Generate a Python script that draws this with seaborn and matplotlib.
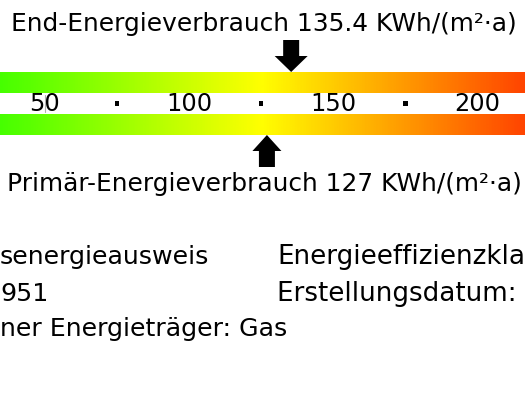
import numpy as np
import pandas as pd
import matplotlib
matplotlib.use("Agg")
import matplotlib.pyplot as plt
from matplotlib.colors import LinearSegmentedColormap
import seaborn as sns

# ---- data ----
scale_labels = [50, 100, 150, 200]
scale_dots = [75, 125, 175]
end_energy = 135.4
primary_energy = 127
title_end = "End-Energieverbrauch 135.4 KWh/(m²·a)"
title_primary = "Primär-Energieverbrauch 127 KWh/(m²·a)"
info_left = ["senergieausweis", "951", "ner Energieträger: Gas"]
info_right = ["Energieeffizienzkla", "Erstellungsdatum: ", ""]
gradient_stops = [0, 125, 250]          # green -> yellow -> red
gradient_colors = ["#00ff00", "#ffff00", "#ff0000"]

# ---- layout ----
W, H = 525, 394
PX_PER_UNIT = 2.886
X0 = 50 - 44.7 / PX_PER_UNIT
X1 = X0 + W / PX_PER_UNIT

sns.set_style("white")
plt.rcParams["font.family"] = ["DejaVu Sans"]
plt.rcParams["text.color"] = "black"

fig = plt.figure(figsize=(W / 100, H / 100), dpi=100)
ax = fig.add_axes([0, 0, 1, 1])
ax.set_xlim(X0, X1)
ax.set_ylim(H, 0)
ax.axis("off")

cmap = LinearSegmentedColormap.from_list(
    "energy",
    [((s - gradient_stops[0]) / (gradient_stops[-1] - gradient_stops[0]), c)
     for s, c in zip(gradient_stops, gradient_colors)])
vals = np.linspace(X0, X1, 600)[None, :]
for (ytop, ybot) in [(72.5, 93), (114, 135)]:
    ax.imshow(vals, cmap=cmap, vmin=gradient_stops[0], vmax=gradient_stops[-1],
              extent=(X0, X1, ybot, ytop), aspect="auto", interpolation="bilinear")
ax.set_xlim(X0, X1)
ax.set_ylim(H, 0)

# thin marker line at 50
ax.plot([50, 50], [95, 112], color="#b0b0b0", lw=0.8)

# scale labels
for v in scale_labels:
    ax.text(v, 103.5, str(v), ha="center", va="center", fontsize=17.3, color="black")

dots = pd.DataFrame({"x": scale_dots, "y": [103.5] * len(scale_dots)})
sns.scatterplot(data=dots, x="x", y="y", marker="s", s=9, color="black",
                edgecolor="none", ax=ax, legend=False)

# arrows
def arrow(x, tip_y, head_hw, shaft_hw, head_len, shaft_len, direction):
    u = 1 / PX_PER_UNIT
    d = direction  # -1: pointing down (body above), +1: pointing up (body below)
    xs = [x, x - head_hw * u, x - shaft_hw * u, x - shaft_hw * u,
          x + shaft_hw * u, x + shaft_hw * u, x + head_hw * u]
    ys = [tip_y, tip_y + d * head_len, tip_y + d * head_len,
          tip_y + d * (head_len + shaft_len), tip_y + d * (head_len + shaft_len),
          tip_y + d * head_len, tip_y + d * head_len]
    ax.fill(xs, ys, color="black", lw=0)

arrow(end_energy, 72, 16.5, 8, 16, 16, -1)
arrow(primary_energy, 135, 14.5, 8, 16, 16, +1)

# titles
cx = X0 + 264 / PX_PER_UNIT
ax.text(cx, 30.5, title_end, ha="center", va="baseline", fontsize=17.9)
ax.text(cx, 190.5, title_primary, ha="center", va="baseline", fontsize=17.9)

# info lines
baselines = [264, 301, 336]
for yb, t in zip(baselines, info_left):
    if t:
        ax.text(X0, yb, t, ha="left", va="baseline", fontsize=18.2)
xr = X0 + 277 / PX_PER_UNIT
for yb, t in zip(baselines, info_right):
    if t:
        ax.text(xr, yb, t, ha="left", va="baseline", fontsize=18.8)

fig.savefig("out.png", dpi=100)
